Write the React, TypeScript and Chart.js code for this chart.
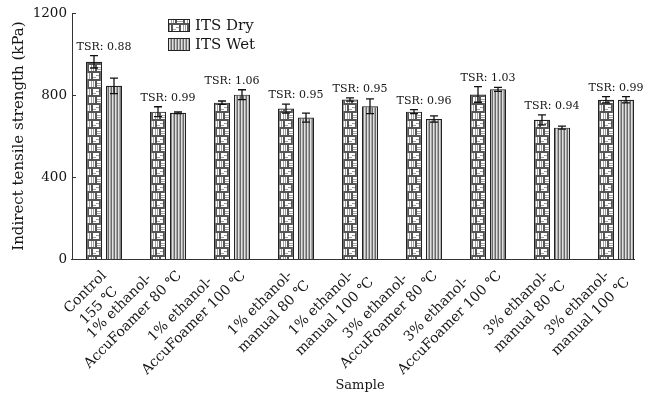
import React, { useEffect, useRef } from "react";
import { Chart, registerables } from "chart.js";

Chart.register(...registerables);

const categories: string[][] = [
  ["Control", "155 ℃"],
  ["1% ethanol-", "AccuFoamer 80 ℃"],
  ["1% ethanol-", "AccuFoamer 100 ℃"],
  ["1% ethanol-", "manual 80 ℃"],
  ["1% ethanol-", "manual 100 ℃"],
  ["3% ethanol-", "AccuFoamer 80 ℃"],
  ["3% ethanol-", "AccuFoamer 100 ℃"],
  ["3% ethanol-", "manual 80 ℃"],
  ["3% ethanol-", "manual 100 ℃"],
];
const dryValues = [962, 719, 763, 734, 778, 719, 803, 679, 777];
const dryErrors = [30, 24, 8, 22, 8, 10, 38, 24, 15];
const wetValues = [845, 714, 802, 690, 745, 683, 828, 641, 777];
const wetErrors = [38, 4, 24, 22, 36, 15, 10, 7, 15];
const tsrLabels = ["0.88", "0.99", "1.06", "0.95", "0.95", "0.96", "1.03", "0.94", "0.99"];
const yTicks = [0, 400, 800, 1200];
const seriesNames = ["ITS Dry", "ITS Wet"];

const FONT = "'DejaVu Serif', serif";
const TEXT = "#151515";

function makeDryPattern(ctx: CanvasRenderingContext2D): CanvasPattern {
  const c = document.createElement("canvas");
  c.width = 16;
  c.height = 16;
  const g = c.getContext("2d")!;
  g.fillStyle = "#555555";
  g.fillRect(0, 0, 16, 16);
  g.fillStyle = "#ffffff";
  g.fillRect(1, 1, 6, 6);
  g.fillRect(9, 1, 6, 6);
  g.fillRect(0, 9, 3, 6);
  g.fillRect(5, 9, 6, 6);
  g.fillRect(13, 9, 3, 6);
  g.fillStyle = "#a0a0a0";
  g.fillRect(1, 3, 6, 1);
  g.fillRect(1, 5, 6, 1);
  g.fillRect(11, 1, 1, 6);
  g.fillRect(13, 1, 1, 6);
  g.fillRect(7, 9, 1, 6);
  g.fillRect(9, 9, 1, 6);
  g.fillRect(0, 11, 3, 1);
  g.fillRect(13, 13, 3, 1);
  return ctx.createPattern(c, "repeat")!;
}

function makeWetPattern(ctx: CanvasRenderingContext2D): CanvasPattern {
  const c = document.createElement("canvas");
  c.width = 3;
  c.height = 4;
  const g = c.getContext("2d")!;
  const cols = ["#6a6a6a", "#e0e0e0", "#a8a8a8"];
  cols.forEach((col, i) => {
    g.fillStyle = col;
    g.fillRect(i, 0, 1, 4);
  });
  return ctx.createPattern(c, "repeat")!;
}

export default function App() {
  const ref = useRef<HTMLCanvasElement | null>(null);

  useEffect(() => {
    document.body.style.margin = "0";
    const canvas = ref.current!;
    const ctx = canvas.getContext("2d")!;
    const dryPat = makeDryPattern(ctx);
    const wetPat = makeWetPattern(ctx);
    const errs = [dryErrors, wetErrors];

    const overlay = {
      id: "overlay",
      afterDatasetsDraw(chart: any) {
        const c = chart.ctx as CanvasRenderingContext2D;
        const y = chart.scales.y;
        const xs = chart.scales.x;
        const area = chart.chartArea;
        c.save();
        // x axis line up to last bar
        const lastMeta = chart.getDatasetMeta(1);
        const lastEl = lastMeta.data[lastMeta.data.length - 1];
        c.strokeStyle = "#333";
        c.lineWidth = 1;
        c.beginPath();
        c.moveTo(area.left - 1, area.bottom + 0.5);
        c.lineTo(lastEl.x + lastEl.width / 2 + 1, area.bottom + 0.5);
        c.stroke();
        // inward y ticks
        yTicks.forEach((v) => {
          const py = Math.round(y.getPixelForValue(v)) + 0.5;
          c.beginPath();
          c.moveTo(area.left, py);
          c.lineTo(area.left + 4, py);
          c.stroke();
        });
        // error bars
        c.strokeStyle = "#111";
        c.lineWidth = 1.3;
        [0, 1].forEach((di) => {
          const meta = chart.getDatasetMeta(di);
          meta.data.forEach((el: any, i: number) => {
            const v = chart.data.datasets[di].data[i] as number;
            const e = errs[di][i];
            const y1 = y.getPixelForValue(v + e);
            const y2 = y.getPixelForValue(v - e);
            const x = el.x;
            c.beginPath();
            c.moveTo(x, y1);
            c.lineTo(x, y2);
            c.moveTo(x - 4, y1);
            c.lineTo(x + 4, y1);
            c.moveTo(x - 4, y2);
            c.lineTo(x + 4, y2);
            c.stroke();
          });
        });
        // TSR labels
        c.fillStyle = TEXT;
        c.font = `11px ${FONT}`;
        c.textAlign = "center";
        c.textBaseline = "bottom";
        const m0 = chart.getDatasetMeta(0);
        const m1 = chart.getDatasetMeta(1);
        tsrLabels.forEach((t, i) => {
          const top = Math.min(
            y.getPixelForValue(dryValues[i] + dryErrors[i]),
            y.getPixelForValue(wetValues[i] + wetErrors[i])
          );
          const cx = (m0.data[i].x + m1.data[i].x) / 2;
          c.fillText(`TSR: ${t}`, cx, top - 3);
        });
        // rotated category labels (lines centred in block)
        c.font = `14px ${FONT}`;
        c.textAlign = "center";
        c.textBaseline = "alphabetic";
        const L = 19;
        const cap = 10;
        const k45 = Math.SQRT1_2;
        categories.forEach((lines, i) => {
          const cx = xs.getPixelForValue(i);
          const ws = lines.map((s) => c.measureText(s).width);
          const W = Math.max(...ws);
          let minSy = Infinity;
          let maxSx = -Infinity;
          lines.forEach((s, k) => {
            const x1 = -W / 2 + ws[k] / 2;
            const yb = k * L;
            const syTop = (-x1 + (yb - cap)) * k45;
            const sxBot = (x1 + yb) * k45;
            minSy = Math.min(minSy, syTop);
            maxSx = Math.max(maxSx, sxBot);
          });
          const ox = cx + 14 - maxSx;
          const oy = area.bottom + 10 - minSy;
          c.save();
          c.translate(ox, oy);
          c.rotate(-Math.PI / 4);
          lines.forEach((s, k) => {
            c.fillText(s, -W / 2, k * L);
          });
          c.restore();
        });
        // legend
        const pats = [dryPat, wetPat];
        c.font = `15px ${FONT}`;
        c.textAlign = "left";
        c.textBaseline = "middle";
        seriesNames.forEach((name, i) => {
          const by = 19 + i * 19;
          c.fillStyle = pats[i];
          c.fillRect(168, by, 22, 13);
          c.strokeStyle = "#222";
          c.lineWidth = 1;
          c.strokeRect(168.5, by + 0.5, 21, 12);
          c.fillStyle = TEXT;
          c.fillText(name, 195, by + 7);
        });
        c.restore();
      },
    };

    const chart = new Chart(ctx, {
      type: "bar",
      data: {
        labels: categories,
        datasets: [
          {
            label: seriesNames[0],
            data: dryValues,
            backgroundColor: dryPat as any,
            borderColor: "#222",
            borderWidth: 1.2,
            categoryPercentage: 0.625,
            barPercentage: 0.8,
          },
          {
            label: seriesNames[1],
            data: wetValues,
            backgroundColor: wetPat as any,
            borderColor: "#222",
            borderWidth: 1.2,
            categoryPercentage: 0.625,
            barPercentage: 0.8,
          },
        ],
      },
      options: {
        responsive: false,
        animation: false,
        devicePixelRatio: 1,
        layout: { padding: { top: 12, right: 3, left: 0, bottom: 0 } },
        plugins: { legend: { display: false }, tooltip: { enabled: false } },
        scales: {
          x: {
            type: "category",
            grid: { display: false, drawTicks: false },
            border: { display: false },
            ticks: {
              display: false,
              autoSkip: false,
            },
            title: {
              display: true,
              text: "Sample",
              color: TEXT,
              font: { family: FONT, size: 13 },
              padding: { top: 0, bottom: 4 },
            },
            afterFit: (s: any) => {
              s.height = 397 - 259;
            },
          },
          y: {
            min: 0,
            max: 1200,
            grid: { display: false, drawTicks: false },
            border: { display: true, color: "#333", width: 1 },
            ticks: {
              stepSize: 400,
              color: TEXT,
              font: { family: FONT, size: 13.5 },
              padding: 5,
              callback: (v: any) => String(v),
            },
            title: {
              display: true,
              text: "Indirect tensile strength (kPa)",
              color: TEXT,
              font: { family: FONT, size: 15 },
              padding: { top: 10, bottom: 0 },
            },
            afterFit: (s: any) => {
              s.width = 72;
            },
          },
        },
      },
      plugins: [overlay],
    });
    return () => chart.destroy();
  }, []);

  return (
    <div style={{ width: 651, height: 397, background: "#fff" }}>
      <canvas ref={ref} width={651} height={397} />
    </div>
  );
}
